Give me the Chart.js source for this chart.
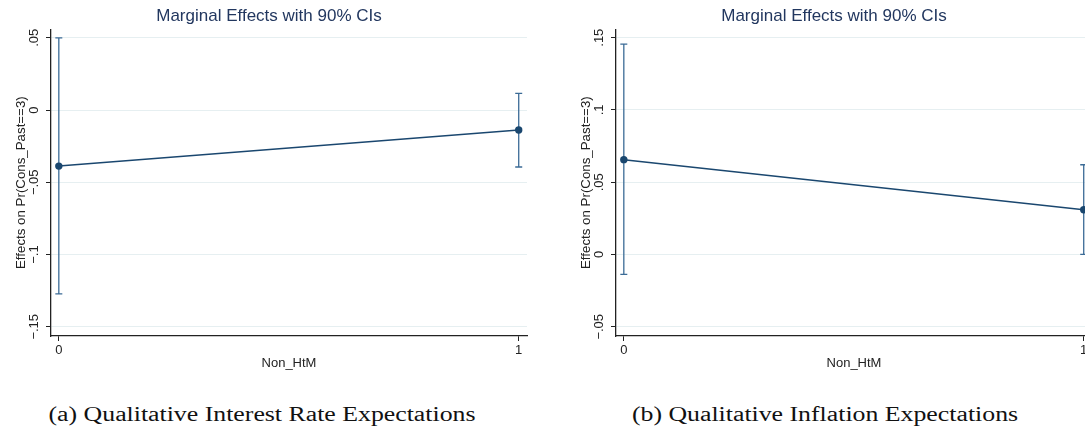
<!DOCTYPE html>
<html>
<head>
<meta charset="utf-8">
<script src="https://cdn.jsdelivr.net/npm/chart.js@4.4.1/dist/chart.umd.min.js"></script>
<style>
  html, body { margin: 0; padding: 0; background: #fff; overflow: hidden; width: 1085px; height: 439px; }
  .panel { position: absolute; top: 0; }
  .caption {
    position: absolute; top: 403px;
    font-family: "Liberation Serif", "Times New Roman", serif;
    font-size: 20px; color: #111; white-space: nowrap;
    transform: translateX(-50%) scaleX(1.29);
  }
</style>
</head>
<body>
<canvas id="chartA" class="panel" width="540" height="372" style="left:0px"></canvas>
<canvas id="chartB" class="panel" width="540" height="372" style="left:565px"></canvas>
<div class="caption" style="left:262px">(a) Qualitative Interest Rate Expectations</div>
<div class="caption" style="left:825px">(b) Qualitative Inflation Expectations</div>

<script>
// Household group on the horizontal axis
const nonHtM = [0, 1];
const xTickLabels = ['0', '1'];

// (a) qualitative interest-rate expectations: margins and 90% bounds
const effectsA = [-0.0388, -0.0138];
const lowerA = [-0.1273, -0.0394];
const upperA = [0.0500, 0.0115];
const yTicksA = [-0.15, -0.1, -0.05, 0, 0.05];
const yTickLabelsA = ['\u2212.15', '\u2212.1', '\u2212.05', '0', '.05'];

// (b) qualitative inflation expectations: margins and 90% bounds
const effectsB = [0.0656, 0.0310];
const lowerB = [-0.0137, 0.0001];
const upperB = [0.1455, 0.0621];
const yTicksB = [-0.05, 0, 0.05, 0.1, 0.15];
const yTickLabelsB = ['\u2212.05', '0', '.05', '.1', '.15'];

const NAVY = '#1a476f';
const CI_COLOR = '#3b6b96';
const AXIS = '#222222';
const GRID = '#e6eff1';
const SANS = '"Liberation Sans", Arial, Helvetica, sans-serif';

// Capped range bars for the confidence intervals
const ciBars = {
  id: 'ciBars',
  beforeDatasetsDraw(chart, args, opts) {
    const { ctx, scales: { x, y } } = chart;
    ctx.save();
    ctx.strokeStyle = CI_COLOR;
    ctx.lineWidth = 1.3;
    opts.xs.forEach((xv, i) => {
      const px = x.getPixelForValue(xv);
      const pLo = y.getPixelForValue(opts.lower[i]);
      const pHi = y.getPixelForValue(opts.upper[i]);
      ctx.beginPath();
      ctx.moveTo(px, pLo); ctx.lineTo(px, pHi);
      ctx.moveTo(px - 3.5, pLo); ctx.lineTo(px + 3.5, pLo);
      ctx.moveTo(px - 3.5, pHi); ctx.lineTo(px + 3.5, pHi);
      ctx.stroke();
    });
    ctx.restore();
  }
};

// Vertical (bottom-to-top) value labels on the y axis
const yTickText = {
  id: 'yTickText',
  afterDraw(chart, args, opts) {
    const { ctx, scales: { y } } = chart;
    ctx.save();
    ctx.fillStyle = AXIS;
    ctx.font = '13px ' + SANS;
    ctx.textAlign = 'center';
    ctx.textBaseline = 'middle';
    const cx = y.right - 16.5;
    opts.values.forEach((v, i) => {
      const py = y.getPixelForValue(v);
      ctx.save();
      ctx.translate(cx, py);
      ctx.rotate(-Math.PI / 2);
      ctx.fillText(opts.labels[i], 0, 0);
      ctx.restore();
    });
    ctx.restore();
  }
};

function makeChart(id, effects, lower, upper, yTicks, yTickLabels, yMin, yMax) {
  return new Chart(document.getElementById(id), {
    type: 'line',
    data: {
      datasets: [{
        data: nonHtM.map((x, i) => ({ x, y: effects[i] })),
        borderColor: NAVY,
        backgroundColor: NAVY,
        borderWidth: 1.5,
        pointRadius: 3.7,
        pointBackgroundColor: NAVY,
        pointBorderColor: NAVY,
        pointBorderWidth: 0,
        tension: 0,
        fill: false
      }]
    },
    options: {
      responsive: false,
      animation: false,
      devicePixelRatio: 1,
      layout: { padding: { left: 11, right: 13, top: 0, bottom: 0 } },
      plugins: {
        legend: { display: false },
        tooltip: { enabled: false },
        title: {
          display: true,
          text: 'Marginal Effects with 90% CIs',
          color: '#22375f',
          font: { family: SANS, size: 17, weight: 'normal' },
          padding: { top: 6, bottom: 2.9 }
        },
        ciBars: { xs: nonHtM, lower, upper },
        yTickText: { values: yTicks, labels: yTickLabels }
      },
      scales: {
        x: {
          type: 'linear',
          min: -0.017,
          max: 1.018,
          afterBuildTicks: s => { s.ticks = nonHtM.map(v => ({ value: v })); },
          afterFit: s => { s.height = 36; },
          ticks: {
            color: AXIS,
            font: { family: SANS, size: 13 },
            padding: 2,
            maxRotation: 0,
            callback: (v) => xTickLabels[nonHtM.indexOf(v)]
          },
          grid: { drawOnChartArea: false, drawTicks: true, tickLength: 5, tickColor: AXIS, lineWidth: 1 },
          border: { display: true, color: AXIS, width: 1.3 },
          title: {
            display: true, text: 'Non_HtM', color: AXIS,
            font: { family: SANS, size: 13 },
            padding: { top: 0, bottom: 1 }
          }
        },
        y: {
          type: 'linear',
          min: yMin,
          max: yMax,
          afterBuildTicks: s => { s.ticks = yTicks.map(v => ({ value: v })); },
          afterFit: s => { s.width = 40; },
          ticks: { display: false },
          grid: { drawOnChartArea: true, drawTicks: true, tickLength: 5, color: GRID, tickColor: AXIS, lineWidth: 1 },
          border: { display: true, color: AXIS, width: 1.3 },
          title: {
            display: true, text: 'Effects on Pr(Cons_Past==3)', color: AXIS,
            font: { family: SANS, size: 13.3 },
            padding: { top: 2, bottom: 0 }
          }
        }
      }
    },
    plugins: [ciBars, yTickText]
  });
}

makeChart('chartA', effectsA, lowerA, upperA, yTicksA, yTickLabelsA, -0.1564, 0.0559);
makeChart('chartB', effectsB, lowerB, upperB, yTicksB, yTickLabelsB, -0.0564, 0.1558);
</script>
</body>
</html>
